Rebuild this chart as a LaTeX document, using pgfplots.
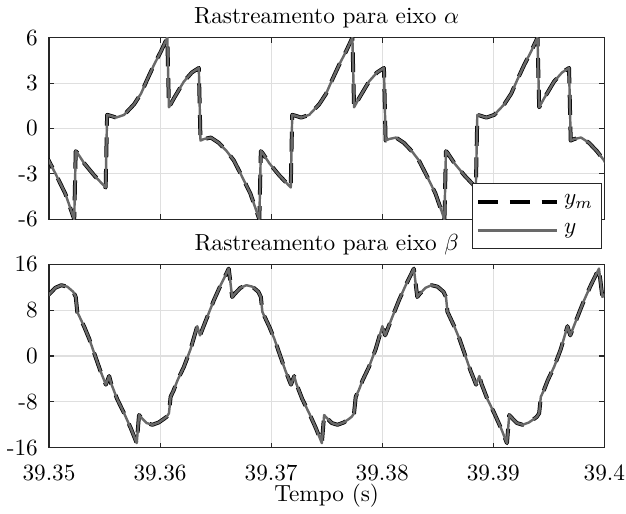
\documentclass[border=0pt]{standalone}
\usepackage{pgfplots}
\usepackage{pgfplotstable}
\pgfplotsset{compat=1.18}
\definecolor{ygray}{RGB}{105,105,105}
\definecolor{axcol}{RGB}{38,38,38}
\definecolor{gridc}{RGB}{223,223,223}

% time in ms after 39.35 s
\pgfplotstableread{
t v
-0.663 -1.5
-0.036 -2.1
0.594 -3.0
1.464 -4.3
2.271 -6.0
2.406 -1.5
2.541 -1.6
3.171 -2.3
4.071 -3.1
4.781 -3.65
5.101 -3.9
5.231 0.9
5.501 0.85
6.041 0.72
6.761 0.9
7.661 1.6
8.281 2.3
8.821 3.2
9.451 4.2
10.081 5.1
10.651 6.0
10.801 1.4
11.251 2.0
12.141 3.1
12.861 3.7
13.491 4.0
13.641 -0.8
13.941 -0.7
14.571 -0.6
15.291 -0.95
16.001 -1.5
16.631 -2.1
17.261 -3.0
18.131 -4.3
18.938 -6.0
19.073 -1.5
19.208 -1.6
19.838 -2.3
20.738 -3.1
21.448 -3.65
21.768 -3.9
21.898 0.9
22.168 0.85
22.708 0.72
23.428 0.9
24.328 1.6
24.948 2.3
25.488 3.2
26.118 4.2
26.748 5.1
27.318 6.0
27.468 1.4
27.918 2.0
28.808 3.1
29.528 3.7
30.158 4.0
30.308 -0.8
30.608 -0.7
31.238 -0.6
31.958 -0.95
32.668 -1.5
33.298 -2.1
33.928 -3.0
34.798 -4.3
35.605 -6.0
35.740 -1.5
35.875 -1.6
36.505 -2.3
37.405 -3.1
38.115 -3.65
38.435 -3.9
38.565 0.9
38.835 0.85
39.375 0.72
40.095 0.9
40.995 1.6
41.615 2.3
42.155 3.2
42.785 4.2
43.415 5.1
43.985 6.0
44.135 1.4
44.585 2.0
45.475 3.1
46.195 3.7
46.825 4.0
46.975 -0.8
47.275 -0.7
47.905 -0.6
48.625 -0.95
49.335 -1.5
49.965 -2.1
50.595 -3.0
}\alphadata

\pgfplotstableread{
t v
-0.482 15.25
-0.176 10.3
0.030 10.8
0.569 11.9
1.107 12.35
1.646 12.1
2.185 11.2
2.409 10.3
2.544 7.7
3.172 5.1
3.621 3.0
4.070 0.5
4.608 -2.5
5.120 -5.0
5.416 -3.5
5.596 -4.8
6.134 -7.5
6.763 -10.0
7.364 -12.6
7.900 -15.2
8.106 -10.3
8.439 -11.0
8.798 -11.7
9.309 -12.0
9.875 -11.6
10.324 -11.0
10.593 -10.6
10.799 -10.0
10.952 -7.1
11.221 -6.0
11.580 -4.2
12.146 -1.9
12.747 1.2
13.349 5.2
13.600 3.6
14.184 6.5
14.839 9.7
15.440 12.3
16.185 15.25
16.491 10.3
16.697 10.8
17.236 11.9
17.774 12.35
18.313 12.1
18.852 11.2
19.076 10.3
19.211 7.7
19.839 5.1
20.288 3.0
20.737 0.5
21.275 -2.5
21.787 -5.0
22.083 -3.5
22.263 -4.8
22.801 -7.5
23.430 -10.0
24.031 -12.6
24.567 -15.2
24.773 -10.3
25.106 -11.0
25.465 -11.7
25.976 -12.0
26.542 -11.6
26.991 -11.0
27.260 -10.6
27.466 -10.0
27.619 -7.1
27.888 -6.0
28.247 -4.2
28.813 -1.9
29.414 1.2
30.016 5.2
30.267 3.6
30.851 6.5
31.506 9.7
32.107 12.3
32.852 15.25
33.158 10.3
33.364 10.8
33.903 11.9
34.441 12.35
34.980 12.1
35.519 11.2
35.743 10.3
35.878 7.7
36.506 5.1
36.955 3.0
37.404 0.5
37.942 -2.5
38.454 -5.0
38.750 -3.5
38.930 -4.8
39.468 -7.5
40.097 -10.0
40.698 -12.6
41.234 -15.2
41.440 -10.3
41.773 -11.0
42.132 -11.7
42.643 -12.0
43.209 -11.6
43.658 -11.0
43.927 -10.6
44.133 -10.0
44.286 -7.1
44.555 -6.0
44.914 -4.2
45.480 -1.9
46.081 1.2
46.683 5.2
46.934 3.6
47.518 6.5
48.173 9.7
48.774 12.3
49.519 15.25
49.825 10.3
50.031 10.8
}\betadata

\pgfplotsset{
  mystyle/.style={
    scale only axis,
    width=238.78pt,
    xmin=0, xmax=50,
    xtick={0,10,20,30,40,50},
    tick align=inside,
    major tick length=2.2pt,
    axis line style={axcol, line width=0.45pt},
    tick style={axcol, line width=0.45pt},
    grid=major,
    major grid style={gridc, line width=0.45pt},
    yticklabel style={xshift=-1.3pt},
    title style={at={(0.5,1)}, anchor=base, yshift=-0.1pt},
    every axis plot/.append style={line join=round},
  },
  ymstyle/.style={black, line width=1.7pt, dash pattern=on 8.6pt off 5pt},
  ystyle/.style={ygray, line width=1.05pt},
}

\begin{document}
\begin{tikzpicture}
\begin{axis}[mystyle,
  at={(21.07pt,126.72pt)}, anchor=south west,
  height=78.09pt,
  ymin=-6, ymax=6,
  ytick={-6,-3,0,3,6},
  yticklabels={-6,-3,0,3,6},
  xticklabels={},
  title={Rastreamento para eixo $\alpha$},
]
\addplot[ymstyle] table[x=t,y=v] {\alphadata};
\addplot[ystyle] table[x=t,y=v] {\alphadata};
\end{axis}

\begin{axis}[mystyle,
  at={(21.07pt,28.51pt)}, anchor=south west,
  height=78.86pt,
  ymin=-16, ymax=16,
  ytick={-16,-8,0,8,16},
  yticklabels={-16,-8,0,8,16},
  xticklabels={39.35,39.36,39.37,39.38,39.39,39.4},
  xticklabel style={anchor=base, yshift=-14.3pt},
  xlabel={Tempo (s)},
  xlabel style={at={(0.5,0)}, anchor=base, yshift=-23pt},
  title={Rastreamento para eixo $\beta$},
  legend style={at={(0.7623,1.445)}, anchor=north west, draw=axcol,
    fill=white, line width=0.45pt, inner xsep=1.5pt, inner ysep=3pt,
    row sep=2.6pt, legend cell align=left},
  legend image code/.code={\draw[#1] (0pt,0pt) -- (34pt,0pt);},
]
\addplot[ymstyle] table[x=t,y=v] {\betadata};
\addlegendentry{$y_m$}
\addplot[ystyle] table[x=t,y=v] {\betadata};
\addlegendentry{$y$}
\end{axis}
\pgfresetboundingbox
\path[use as bounding box] (0pt,0pt) rectangle (269.18pt,221.02pt);
\end{tikzpicture}
\end{document}
